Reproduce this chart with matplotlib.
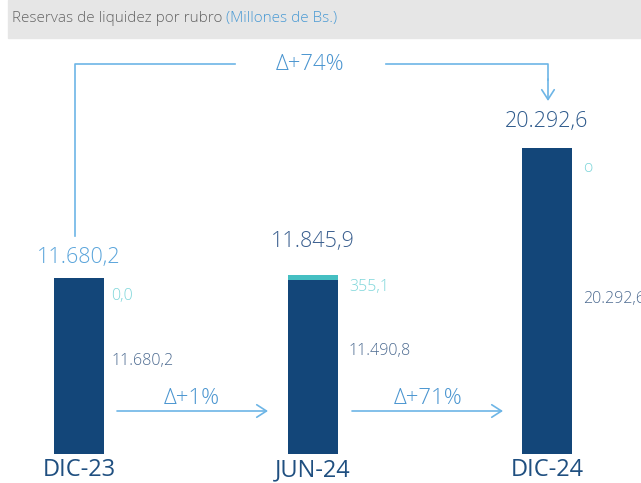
import matplotlib.pyplot as plt
from matplotlib.patches import Rectangle

# data
periods = ['DIC-23', 'JUN-24', 'DIC-24']
base = [11680.2, 11490.8, 20292.6]      # dark segment
extra = [0.0, 355.1, 0.0]               # teal segment
totals = ['11.680,2', '11.845,9', '20.292,6']
base_labels = ['11.680,2', '11.490,8', '20.292,6']
extra_labels = ['0,0', '355,1', 'o']
changes = ['Δ+1%', 'Δ+71%', 'Δ+74%']

dark = '#134679'
teal = '#45BFC2'
arrow_c = '#6DB5E6'
W, H = 641, 483

plt.rcParams['font.family'] = ['Open Sans', 'DejaVu Sans']
plt.rcParams['font.weight'] = 'light'

fig = plt.figure(figsize=(W / 100, H / 100), dpi=100)
ax = fig.add_axes([0, 29 / H, 1, 1 - 29 / H - 40 / H])
ax.set_xlim(-79 / 234, (W - 79) / 234)
ax.set_ylim(0, (454 - 40) / 0.0151)
ax.axis('off')

x = range(len(periods))
ax.bar(x, base, width=0.2137, color=dark)
ax.bar(x, extra, bottom=base, width=0.2137, color=teal)

# labels on bars
tot_off = [20, 34, 26]
tot_col = ['#5BA5DB', '#3A5F8F', '#2E5A8C']
extra_off = [-18, -12, -20]
base_off = [-83, -76, -151]
lab_dx = [32, 36, 36]
for i in x:
    top = base[i] + extra[i]
    ax.annotate(totals[i], (i, top), xytext=(0, tot_off[i]), textcoords='offset pixels',
                ha='center', va='center', fontsize=15.5, color=tot_col[i])
    ax.annotate(extra_labels[i], (i, top), xytext=(lab_dx[i], extra_off[i]), textcoords='offset pixels',
                ha='left', va='center', fontsize=11.5, color='#7ED6DA')
    ax.annotate(base_labels[i], (i, top), xytext=(lab_dx[i], base_off[i]), textcoords='offset pixels',
                ha='left', va='center', fontsize=11.5, color='#4C6A90')
    ax.annotate(periods[i], (i, 0), xytext=(0, -16), textcoords='offset pixels',
                ha='center', va='center', fontsize=17, fontweight='normal', color='#1F4F80')


def P(px, py):
    return (px, H - py)


def arrow(p0, p1):
    ax.annotate('', xy=P(*p1), xytext=P(*p0), xycoords='figure pixels', textcoords='figure pixels',
                arrowprops=dict(arrowstyle='->,head_length=0.7,head_width=0.45', color=arrow_c, lw=1.2,
                                shrinkA=0, shrinkB=0))


def line(pts):
    xs = [p[0] for p in pts]
    ys = [H - p[1] for p in pts]
    fig.add_artist(plt.Line2D(xs, ys, transform=None, color=arrow_c, lw=1.2))


arrow((117, 411), (268, 411))
fig.text(192 / W, 1 - 398 / H, changes[0], ha='center', va='center', fontsize=16, color='#4A95D0')
arrow((352, 411), (503, 411))
fig.text(428 / W, 1 - 398 / H, changes[1], ha='center', va='center', fontsize=16, color='#4A95D0')

line([(75, 236), (75, 64), (235, 64)])
line([(386, 64), (548, 64), (548, 80)])
arrow((548, 79), (548, 101))
fig.text(310 / W, 1 - 64 / H, changes[2], ha='center', va='center', fontsize=16, color='#4A95D0')

# title band
fig.add_artist(Rectangle((8 / W, 1 - 38 / H), 1, 38 / H, transform=fig.transFigure,
                         color='#E6E6E6', zorder=0))
t = fig.text(12 / W, 1 - 18 / H, 'Reservas de liquidez por rubro ', ha='left', va='center',
             fontsize=11, color='#666666')
fig.canvas.draw()
bb = t.get_window_extent()
fig.text(bb.x1 / W, 1 - 18 / H, '(Millones de Bs.)', ha='left', va='center', fontsize=11, color='#4A9AD4')

fig.savefig('out.png', dpi=100)
